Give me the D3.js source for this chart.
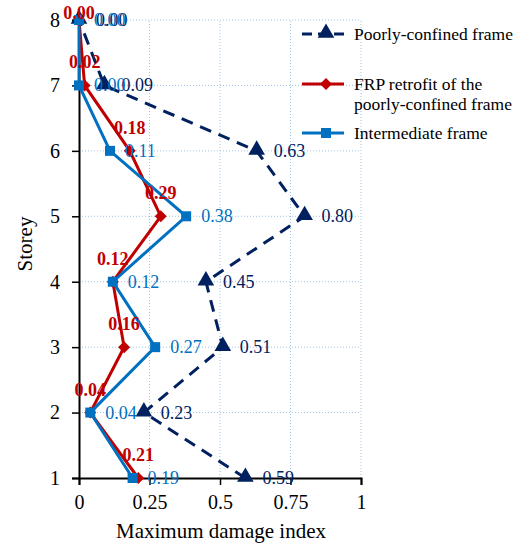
<!DOCTYPE html>
<html><head><meta charset="utf-8">
<script src="https://cdn.jsdelivr.net/npm/d3@7"></script>
<style>body{margin:0;background:#fff}svg{display:block}</style>
</head><body><svg id="c" width="524" height="547" font-family="'Liberation Serif', 'Times New Roman', serif"></svg>
<script>
const storeys = [1,2,3,4,5,6,7,8];
const poorly = [0.59,0.23,0.51,0.45,0.80,0.63,0.09,0.00];
const frp = [0.21,0.04,0.16,0.12,0.29,0.18,0.02,0.00];
const inter = [0.19,0.04,0.27,0.12,0.38,0.11,0.00,0.00];
const xTicks = [0,0.25,0.5,0.75,1];
const xTickLabels = ["0","0.25","0.5","0.75","1"];
const seriesNames = ["Poorly-confined frame","FRP retrofit of the|poorly-confined frame","Intermediate frame"];

const FF = "'Liberation Serif', 'Times New Roman', serif";
const svg = d3.select("#c");
const x = d3.scaleLinear().domain([0,1]).range([79,361]);
const y = d3.scaleLinear().domain([1,8]).range([478,20]);
const C = {poor:"#002060", frp:"#C00000", inter:"#0070C0", grid:"#9DC3E6"};

// gridlines
svg.append("g").selectAll("line").data(xTicks.slice(1)).join("line")
  .attr("x1",d=>x(d)).attr("x2",d=>x(d)).attr("y1",y(1)).attr("y2",y(8))
  .attr("stroke",C.grid).attr("stroke-width",1).attr("stroke-dasharray","1,2");
svg.append("g").selectAll("line").data(storeys.slice(1)).join("line")
  .attr("x1",x(0)).attr("x2",x(1)).attr("y1",d=>y(d)).attr("y2",d=>y(d))
  .attr("stroke",C.grid).attr("stroke-width",1).attr("stroke-dasharray","1,2");

// axes
const xa = svg.append("g").attr("transform",`translate(0,${y(1)})`)
  .call(d3.axisBottom(x).tickValues(xTicks).tickFormat((d,i)=>xTickLabels[i]).tickSizeOuter(0).tickSize(7).tickPadding(10));
const ya = svg.append("g").attr("transform",`translate(${x(0)},0)`)
  .call(d3.axisLeft(y).tickValues(storeys).tickFormat(d3.format("d")).tickSizeOuter(0).tickSize(7).tickPadding(12));
[xa,ya].forEach(a=>{
  a.attr("font-family",FF).attr("font-size",20);
  a.select(".domain").attr("stroke","#000").attr("stroke-width",2);
  a.selectAll(".tick line").attr("stroke","#000").attr("stroke-width",1.5);
  a.selectAll(".tick text").attr("fill","#000");
});

svg.append("text").attr("x",x(0.5)+1).attr("y",538).attr("text-anchor","middle").attr("font-family",FF).attr("font-size",21).text("Maximum damage index");
svg.append("text").attr("transform",`translate(32,244) rotate(-90)`).attr("text-anchor","middle").attr("font-family",FF).attr("font-size",21).text("Storey");

const line = d3.line().x(d=>x(d[1])).y(d=>y(d[0]));
const tri = d3.symbol().type(d3.symbolTriangle).size(120);
const dia = d3.symbol().type(d3.symbolSquare).size(72);
const sq = d3.symbol().type(d3.symbolSquare).size(100);

const dP = storeys.map((s,i)=>[s,poorly[i]]);
const dF = storeys.map((s,i)=>[s,frp[i]]);
const dI = storeys.map((s,i)=>[s,inter[i]]);

svg.append("path").datum(dP).attr("d",line).attr("fill","none").attr("stroke",C.poor).attr("stroke-width",3).attr("stroke-dasharray","12,8");
svg.append("path").datum(dF).attr("d",line).attr("fill","none").attr("stroke",C.frp).attr("stroke-width",3);
svg.append("path").datum(dI).attr("d",line).attr("fill","none").attr("stroke",C.inter).attr("stroke-width",3);

svg.append("g").selectAll("path").data(dP).join("path").attr("d",tri)
  .attr("transform",d=>`translate(${x(d[1])},${y(d[0])-1})`).attr("fill",C.poor);
svg.append("g").selectAll("path").data(dF).join("path").attr("d",dia)
  .attr("transform",d=>`translate(${x(d[1])},${y(d[0])}) rotate(45)`).attr("fill",C.frp);
svg.append("g").selectAll("path").data(dI).join("path").attr("d",sq)
  .attr("transform",d=>`translate(${x(d[1])},${y(d[0])})`).attr("fill",C.inter);

// labels
svg.append("g").attr("font-family",FF).attr("font-size",18).selectAll("text").data(dP).join("text")
  .attr("x",d=>x(d[1])+17).attr("y",d=>y(d[0])+6).attr("fill",C.poor)
  .text(d=>d[1].toFixed(2));
svg.append("g").attr("font-family",FF).attr("font-size",18).selectAll("text").data(dI).join("text")
  .attr("x",d=>x(d[1])+15).attr("y",d=>y(d[0])+6).attr("fill",C.inter)
  .text(d=>d[1].toFixed(2));
svg.append("g").attr("font-family",FF).attr("font-size",18).attr("font-weight","bold").selectAll("text").data(dF).join("text")
  .attr("x",d=>x(d[1])).attr("y",d=>Math.max(y(d[0])-17,19)).attr("text-anchor","middle")
  .attr("fill",C.frp)
  .text(d=>d[1].toFixed(2));

// legend
const lg = svg.append("g").attr("font-family",FF).attr("font-size",17.5);
const lx0=302, lx1=344, lmx=326;
const rows=[{y:34,c:C.poor,dash:"10,6",sym:tri,rot:0},{y:84,c:C.frp,dash:null,sym:dia,rot:45},{y:133,c:C.inter,dash:null,sym:sq,rot:0}];
rows.forEach((r,i)=>{
  lg.append("line").attr("x1",lx0).attr("x2",lx1).attr("y1",r.y).attr("y2",r.y).attr("stroke",r.c).attr("stroke-width",3).attr("stroke-dasharray",r.dash);
  lg.append("path").attr("d",r.sym).attr("transform",`translate(${lmx},${r.y-(i===0?1:0)}) rotate(${r.rot})`).attr("fill",r.c);
  const parts = seriesNames[i].split("|");
  parts.forEach((p,j)=>{
    lg.append("text").attr("x",354).attr("y",r.y+6+j*20).attr("fill","#000").text(p);
  });
});
</script></body></html>
